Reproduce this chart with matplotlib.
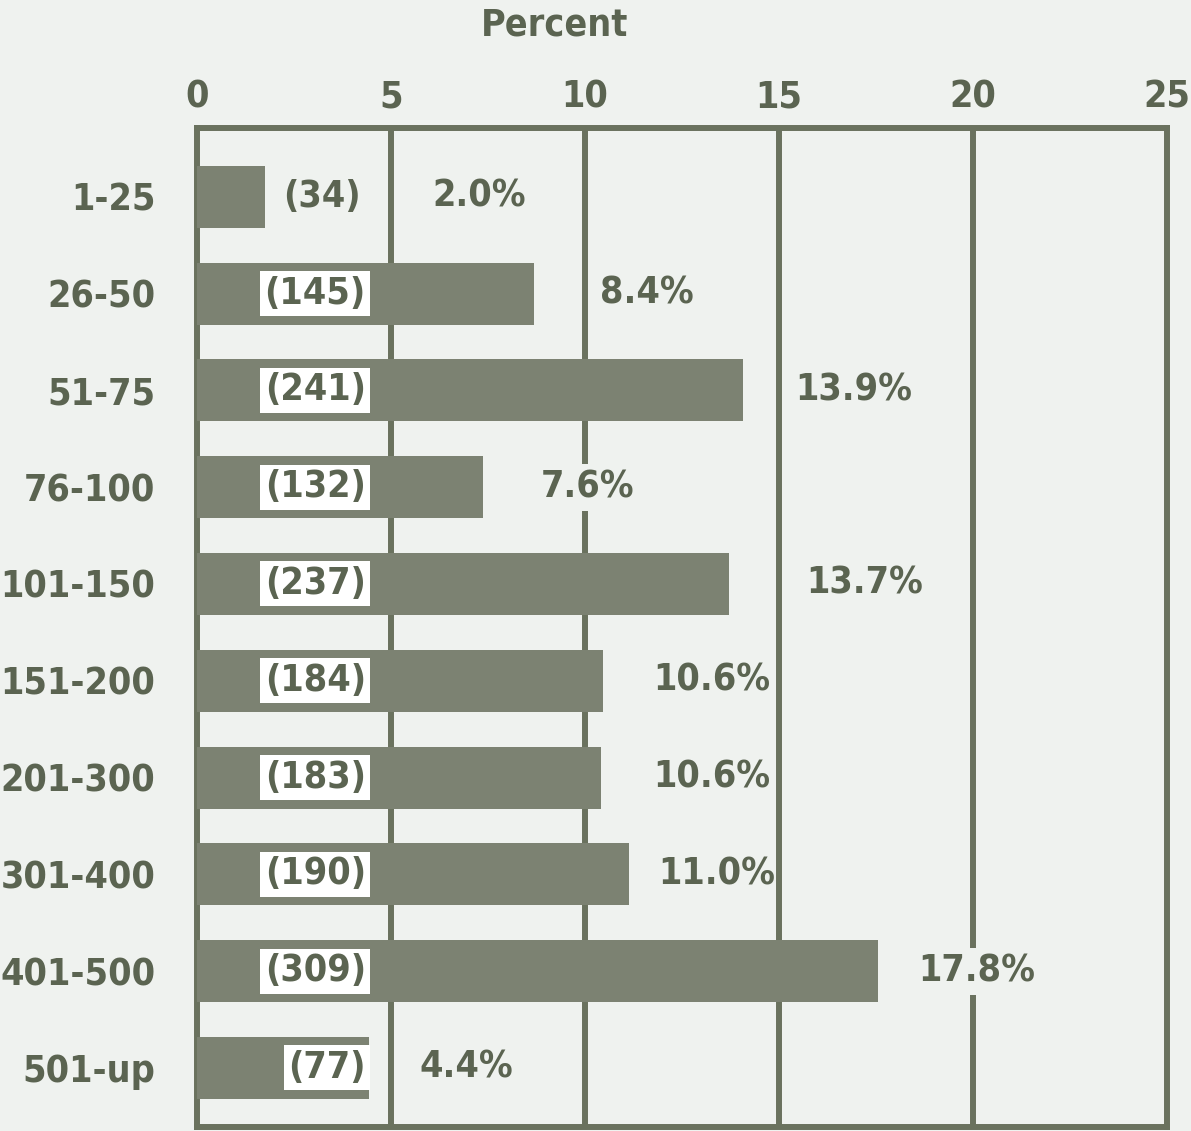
import matplotlib
matplotlib.use("Agg")
import matplotlib.pyplot as plt
from matplotlib import font_manager as fm
import os

categories = ["1-25", "26-50", "51-75", "76-100", "101-150", "151-200",
              "201-300", "301-400", "401-500", "501-up"]
bar_lengths = [1.76, 8.68, 14.06, 7.36, 13.7, 10.46, 10.4, 11.14, 17.55, 4.44]
counts = ["(34)", "(145)", "(241)", "(132)", "(237)", "(184)", "(183)", "(190)", "(309)", "(77)"]
pct_labels = ["2.0%", "8.4%", "13.9%", "7.6%", "13.7%", "10.6%", "10.6%", "11.0%", "17.8%", "4.4%"]
xticks = [0, 5, 10, 15, 20, 25]

# layout: percent label offsets from bar end (in data units)
pct_offset = [4.3, 1.7, 1.35, 1.5, 2.0, 1.3, 1.35, 0.75, 1.05, 1.3]


def score(f):
    n = os.path.basename(f.fname).lower().replace("-", "").replace("_", "")
    if "italic" in n or "oblique" in n:
        return -1
    if "condensed" not in n and "narrow" not in n:
        return -1
    s = 0
    if "extracondensed" in n:
        s += 5
    elif "semicondensed" in n:
        s += 2
    elif "condensed" in n or "narrow" in n:
        s += 10
    if n.endswith("bold.ttf") or n.endswith("bold.otf") or "condensedbold" in n or "narrowbold" in n:
        if "extrabold" not in n and "semibold" not in n:
            s += 20
    return s


cands = sorted(fm.fontManager.ttflist, key=score, reverse=True)
FS = 27
if cands and score(cands[0]) >= 20:
    FP = dict(fontproperties=fm.FontProperties(fname=cands[0].fname, size=FS))
else:
    FP = dict(family="DejaVu Sans", fontweight="bold", fontsize=23)

TXT = "#5b6451"
BAR = "#7c8272"
LINE = "#6a725e"
BG = "#eff2ef"

fig = plt.figure(figsize=(11.91, 11.31), dpi=100, facecolor=BG)
ax = fig.add_axes([197/1191, 1 - 1127/1131, (1167-197)/1191, (1127-128)/1131])
ax.set_facecolor(BG)

ypos = list(range(len(categories)))
ax.barh(ypos, bar_lengths, height=0.64, color=BAR, zorder=3)

ax.set_xlim(0, 25)
ax.set_ylim(9.61, -0.71)
for x in xticks[1:-1]:
    ax.axvline(x, color=LINE, lw=4.3, zorder=1)
for s in ax.spines.values():
    s.set_color(LINE)
    s.set_linewidth(4.3)

ax.xaxis.tick_top()
ax.set_xticks(xticks)
ax.set_xticklabels([str(t) for t in xticks], color=TXT, **FP)
ax.set_yticks(ypos)
ax.set_yticklabels(categories, color=TXT, **FP)
ax.tick_params(axis="both", length=0)
ax.tick_params(axis="x", pad=9)
ax.tick_params(axis="y", pad=30)

renderer = fig.canvas.get_renderer()
inv = ax.transData.inverted()
for i, (v, c, p) in enumerate(zip(bar_lengths, counts, pct_labels)):
    if v < 3:
        ax.text(v + 0.45, i, c, ha="left", va="center", color=TXT, zorder=5, **FP)
    else:
        ax.text(4.35, i, c, ha="right", va="center", color=TXT, zorder=5,
                bbox=dict(boxstyle="square,pad=0.12", fc="white", ec="none"), **FP)
    t = ax.text(v + pct_offset[i], i, p, ha="left", va="center", color=TXT, zorder=5, **FP)
    bb = t.get_window_extent(renderer)
    x0 = inv.transform((bb.x0, bb.y0))[0]
    x1 = inv.transform((bb.x1, bb.y0))[0]
    if any(x0 + 0.3 < g < x1 - 0.3 for g in xticks[1:-1]):
        t.set_bbox(dict(boxstyle="square,pad=0.15", fc=BG, ec="none"))

fig.text(555/1191, 1 - 25/1131, "Percent", ha="center", va="center", color=TXT, **FP)

fig.savefig("out.png", dpi=100, facecolor=BG)
